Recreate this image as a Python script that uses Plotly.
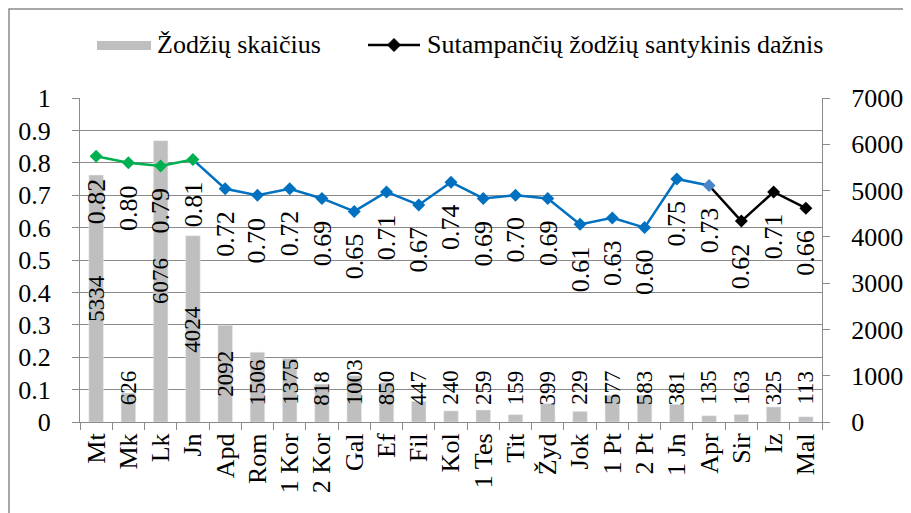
import plotly.graph_objects as go

# ---------------- data ----------------
categories = ["Mt", "Mk", "Lk", "Jn", "Apd", "Rom", "1 Kor", "2 Kor", "Gal", "Ef", "Fil",
              "Kol", "1 Tes", "Tit", "Žyd", "Jok", "1 Pt", "2 Pt", "1 Jn", "Apr", "Sir", "Iz", "Mal"]
word_counts = [5334, 626, 6076, 4024, 2092, 1506, 1375, 818, 1003, 850, 447,
               240, 259, 159, 399, 229, 577, 583, 381, 135, 163, 325, 113]
match_freq = [0.82, 0.80, 0.79, 0.81, 0.72, 0.70, 0.72, 0.69, 0.65, 0.71, 0.67,
              0.74, 0.69, 0.70, 0.69, 0.61, 0.63, 0.60, 0.75, 0.73, 0.62, 0.71, 0.66]
bar_name = "Žodžių skaičius"
line_name = "Sutampančių žodžių santykinis dažnis"

# ---------------- styles ----------------
W, H = 911, 513
PAGE_OFF = 8            # default body margin of the html page
PW, PH = 742, 324
ML, MT = 80 - PAGE_OFF, 98 - PAGE_OFF
MR, MB = W - ML - PW, H - MT - PH
FONT = "Liberation Serif"
GRID = "#8a8a8a"
BAR_COLOR = "#bfbfbf"
GREEN, BLUE, APR_BLUE, BLACK = "#00b050", "#0070c0", "#4a86c8", "#000000"
# segments (index ranges) of the line and their colours
segments = [(0, 4, GREEN), (3, 20, BLUE), (19, 23, BLACK)]
point_colors = [GREEN] * 4 + [BLUE] * 15 + [APR_BLUE] + [BLACK] * 3
LAB_FS = 26
BAR_LAB_FS = 23


def pxx(px):
    """page pixel x -> paper x"""
    return (px - PAGE_OFF - ML) / PW


def pxy(py):
    """page pixel y -> paper y"""
    return (MT + PH - (py - PAGE_OFF)) / PH


fig = go.Figure()

# bars on primary y (right side)
fig.add_trace(go.Bar(x=categories, y=word_counts, name=bar_name, marker_color=BAR_COLOR,
                     width=0.45, yaxis="y", showlegend=False))

# line segments on y2 (left side)
for a, b, col in segments:
    fig.add_trace(go.Scatter(x=categories[a:b], y=match_freq[a:b], mode="lines",
                             line=dict(color=col, width=2.5), yaxis="y2", showlegend=False))
fig.add_trace(go.Scatter(x=categories, y=match_freq, mode="markers", name=line_name,
                         marker=dict(symbol="diamond", size=10, color=point_colors),
                         yaxis="y2", showlegend=False))

annotations = []
# bar labels (rotated, centred in bar but kept above the axis)
ymax_bar = 7000
for c, v in zip(categories, word_counts):
    txt = str(v)
    length = len(txt) * 0.5 * BAR_LAB_FS
    min_center = (17 + length / 2) / PH * ymax_bar
    yc = max(v / 2, min_center)
    annotations.append(dict(x=c, y=yc, xref="x", yref="y", text=txt, showarrow=False,
                            textangle=-90, font=dict(family=FONT, size=BAR_LAB_FS, color="black"),
                            xanchor="center", yanchor="middle"))
# line labels (rotated, below the point)
for c, v in zip(categories, match_freq):
    txt = f"{v:.2f}"
    length = 1.75 * LAB_FS
    annotations.append(dict(x=c, y=v, xref="x", yref="y2", text=txt, showarrow=False,
                            textangle=-90, font=dict(family=FONT, size=LAB_FS, color="black"),
                            xanchor="center", yanchor="middle", yshift=-(22 + length / 2)))

# custom legend
legend_y = 45
annotations.append(dict(x=pxx(155), y=pxy(legend_y), xref="paper", yref="paper", text=bar_name,
                        showarrow=False, xanchor="left", yanchor="middle",
                        font=dict(family=FONT, size=LAB_FS, color="black")))
annotations.append(dict(x=pxx(425), y=pxy(legend_y), xref="paper", yref="paper", text=line_name,
                        showarrow=False, xanchor="left", yanchor="middle",
                        font=dict(family=FONT, size=LAB_FS, color="black")))

shapes = [
    dict(type="rect", xref="paper", yref="paper", x0=pxx(97), x1=pxx(151),
         y0=pxy(legend_y + 5), y1=pxy(legend_y - 4), fillcolor=BAR_COLOR, line=dict(width=0)),
    dict(type="line", xref="paper", yref="paper", x0=pxx(368), x1=pxx(420),
         y0=pxy(legend_y), y1=pxy(legend_y), line=dict(color=BLACK, width=2.5)),
]
cx, cy, r = 394, legend_y, 6.5
path = (f"M{pxx(cx)},{pxy(cy - r)} L{pxx(cx + r)},{pxy(cy)} L{pxx(cx)},{pxy(cy + r)} "
        f"L{pxx(cx - r)},{pxy(cy)} Z")
shapes.append(dict(type="path", xref="paper", yref="paper", path=path,
                   fillcolor=BLACK, line=dict(color=BLACK, width=1)))
# outer chart frame (left and top edges visible)
shapes.append(dict(type="rect", xref="paper", yref="paper", x0=pxx(9), x1=pxx(960),
                   y0=pxy(560), y1=pxy(9), line=dict(color="#8c8c8c", width=1.5),
                   fillcolor="rgba(0,0,0,0)", layer="below"))

axis_font = dict(family=FONT, size=LAB_FS, color="black")
fig.update_layout(
    width=W, height=H,
    margin=dict(l=ML, r=MR, t=MT, b=MB, autoexpand=False),
    paper_bgcolor="white", plot_bgcolor="white",
    font=dict(family=FONT, size=LAB_FS, color="black"),
    showlegend=False,
    xaxis=dict(type="category", range=[-0.5, len(categories) - 0.5], tickmode="linear", dtick=1,
               tickangle=-90, tickfont=axis_font,
               ticks="outside", tickson="boundaries", ticklen=7, tickcolor=GRID, showline=True,
               linecolor=GRID, linewidth=1, showgrid=False, zeroline=False),
    yaxis=dict(range=[0, 7000], dtick=1000, side="right", ticks="outside", ticklen=7,
               tickcolor=GRID, showline=True, linecolor=GRID, showgrid=False,
               zeroline=False, tickfont=axis_font, ticklabelstandoff=16),
    yaxis2=dict(range=[0, 1], dtick=0.1, side="left", overlaying="y", ticks="outside",
                ticklen=7, tickcolor=GRID, showline=True, linecolor=GRID, showgrid=True,
                gridcolor=GRID, gridwidth=1, zeroline=False, tickfont=axis_font,
                ticklabelstandoff=16),
    annotations=annotations,
    shapes=shapes,
)

fig.write_html("out.html")
